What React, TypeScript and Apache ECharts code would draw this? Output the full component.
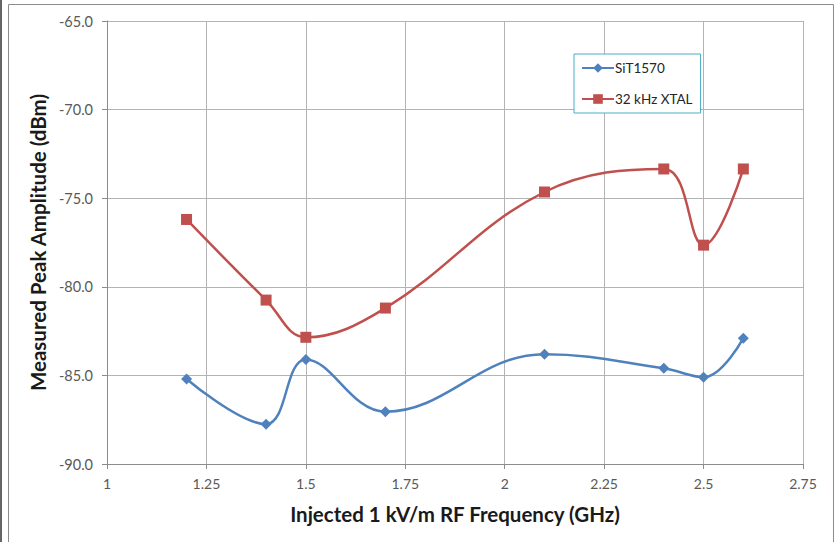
import React, { useEffect, useRef } from "react";
import * as echarts from "echarts";

const frequencies = [1.2, 1.4, 1.5, 1.7, 2.1, 2.4, 2.5, 2.6];
const sit1570 = [-85.2, -87.75, -84.1, -87.05, -83.8, -84.6, -85.1, -82.9];
const xtal32k = [-76.2, -80.75, -82.85, -81.2, -74.65, -73.35, -77.65, -73.35];
const seriesNames = ["SiT1570", "32 kHz XTAL"];
const xTitle = "Injected 1 kV/m RF Frequency (GHz)";
const yTitle = "Measured Peak Amplitude (dBm)";

const FONT = "Lato, 'Open Sans', sans-serif";

export default function App() {
  const ref = useRef<HTMLDivElement>(null);
  useEffect(() => {
    if (!ref.current) return;
    const chart = echarts.init(ref.current, undefined, { renderer: "svg" });
    const pairs = (vals: number[]) => frequencies.map((f, i) => [f, vals[i]]);
    chart.setOption({
      animation: false,
      backgroundColor: "#ffffff",
      textStyle: { fontFamily: FONT },
      graphic: [
        {
          type: "rect",
          shape: { x: 8.5, y: 4.5, width: 825, height: 560 },
          style: { fill: "none", stroke: "#8c8c8c", lineWidth: 1 },
          silent: true,
        },
        {
          type: "line",
          shape: { x1: 1, y1: 0, x2: 1, y2: 542 },
          style: { stroke: "#333", lineWidth: 1.5 },
          silent: true,
        },
      ],
      grid: { left: 107, top: 21, width: 696, height: 443, containLabel: false },
      legend: {
        left: 574,
        top: 54,
        orient: "vertical",
        backgroundColor: "#ffffff",
        borderColor: "#4bacc6",
        borderWidth: 1,
        padding: [7, 8, 7, 7],
        itemWidth: 32,
        itemHeight: 12,
        itemGap: 17,
        textStyle: { fontFamily: FONT, fontSize: 13.5, color: "#262626", padding: [0, 0, 0, -4] },
        data: seriesNames,
      },
      xAxis: {
        type: "value",
        min: 1,
        max: 2.75,
        interval: 0.25,
        name: xTitle,
        nameLocation: "middle",
        nameGap: 39,
        nameTextStyle: { fontFamily: FONT, fontSize: 20.5, fontWeight: "bold", color: "#1a1a1a" },
        axisLine: { show: true, lineStyle: { color: "#8c8c8c", width: 1 } },
        axisTick: { show: true, length: 5, lineStyle: { color: "#8c8c8c" } },
        axisLabel: { fontFamily: FONT, fontSize: 14, color: "#595959", margin: 12 },
        splitLine: { show: true, lineStyle: { color: "#b3b3b3", width: 1 } },
      },
      yAxis: {
        type: "value",
        min: -90,
        max: -65,
        interval: 5,
        name: yTitle,
        nameLocation: "middle",
        nameGap: 54,
        nameRotate: 90,
        nameTextStyle: { fontFamily: FONT, fontSize: 20.5, fontWeight: "bold", color: "#1a1a1a" },
        axisLine: { show: true, lineStyle: { color: "#8c8c8c", width: 1 } },
        axisTick: { show: true, length: 5, lineStyle: { color: "#8c8c8c" } },
        axisLabel: {
          fontFamily: FONT,
          fontSize: 14.5,
          color: "#595959",
          margin: 14,
          formatter: (v: number) => v.toFixed(1),
        },
        splitLine: { show: true, lineStyle: { color: "#b3b3b3", width: 1 } },
      },
      series: [
        {
          name: seriesNames[0],
          type: "line",
          data: pairs(sit1570),
          smooth: 0.4,
          symbol: "diamond",
          symbolSize: 11,
          itemStyle: { color: "#4f81bd" },
          lineStyle: { color: "#4f81bd", width: 2.5 },
          z: 3,
        },
        {
          name: seriesNames[1],
          type: "line",
          data: pairs(xtal32k),
          smooth: 0.4,
          symbol: "rect",
          symbolSize: 11,
          itemStyle: { color: "#c0504d" },
          lineStyle: { color: "#c0504d", width: 2.5 },
          z: 3,
        },
      ],
    });
    return () => chart.dispose();
  }, []);
  return (
    <div
      ref={ref}
      style={{ position: "absolute", left: 0, top: 0, width: 838, height: 542 }}
    />
  );
}
